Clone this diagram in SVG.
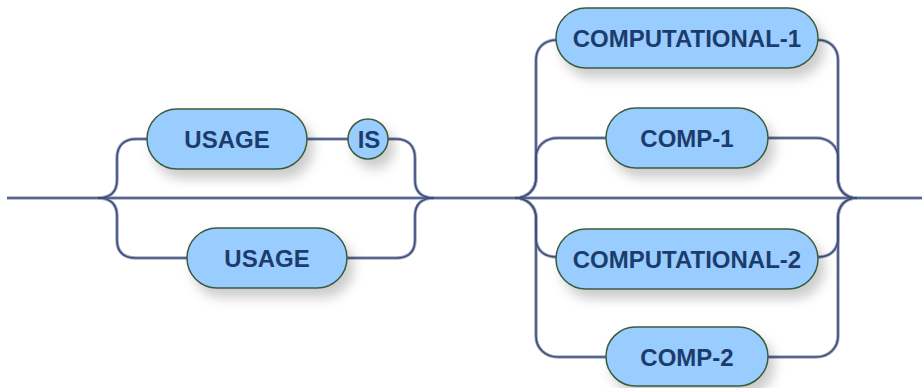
<svg xmlns="http://www.w3.org/2000/svg" width="922" height="388" viewBox="0 0 922 388">
<defs>
<filter id="sh" x="-20%" y="-30%" width="150%" height="200%">
<feDropShadow dx="6" dy="9" stdDeviation="6" flood-color="#000" flood-opacity="0.2"/>
</filter>
<style>
.node rect, .node circle { fill:#99ccff; stroke:#3b5b3b; stroke-width:1.5; filter:url(#sh); }
.node text { font-family:"Liberation Sans", Arial, sans-serif; font-weight:bold; font-size:24px; fill:#1c3c6c; text-anchor:middle; }
.under { fill:none; stroke:#a6aec4; stroke-width:3.5; }
.core { fill:none; stroke:#3d4d7a; stroke-width:1.6; }
</style>
<g id="paths">
<path d="M7,198 H922"/>
<path d="M98,198 C110,198 117,192 117,180 V158 C117,146 124,139 136,139 H147"/>
<path d="M307,139 H348"/>
<path d="M388,139 H396 C408,139 415,146 415,158 V180 C415,192 422,198 434,198"/>
<path d="M98,198 C110,198 117,204 117,216 V240 C117,252 124,258 136,258 H187"/>
<path d="M347,258 H396 C408,258 415,252 415,240 V216 C415,204 422,198 434,198"/>
<path d="M515,198 C527,198 536,190 536,178 V60 C536,48 544,40 557,40"/>
<path d="M818,40 C830,40 838,48 838,60 V178 C838,190 845,198 857,198"/>
<path d="M515,198 C527,198 536,190 536,178 V158 C536,146 545,138 558,138 H606"/>
<path d="M768,138 H816 C829,138 838,146 838,158 V178 C838,190 845,198 857,198"/>
<path d="M515,198 C527,198 536,206 536,218 V238 C536,250 544,257 557,257"/>
<path d="M818,257 C830,257 838,250 838,238 V218 C838,206 845,198 857,198"/>
<path d="M515,198 C527,198 536,206 536,218 V336 C536,348 545,357 558,357 H606"/>
<path d="M768,357 H816 C829,357 838,348 838,336 V218 C838,206 845,198 857,198"/>
</g>
</defs>
<g id="connectors">
<use href="#paths" class="under"/>
<use href="#paths" class="core"/>
</g>
<g id="n-usage1" class="node"><rect x="147" y="109" width="160" height="60" rx="30"/><text x="227" y="147.5">USAGE</text></g>
<g id="n-is" class="node"><circle cx="368" cy="139" r="20"/><text x="369" y="147.5">IS</text></g>
<g id="n-usage2" class="node"><rect x="187" y="228" width="160" height="60" rx="30"/><text x="267" y="266.5">USAGE</text></g>
<g id="n-comp1" class="node"><rect x="556" y="8" width="262" height="60" rx="30"/><text x="687" y="46.5">COMPUTATIONAL-1</text></g>
<g id="n-c1" class="node"><rect x="606" y="108" width="162" height="60" rx="30"/><text x="687" y="146.5">COMP-1</text></g>
<g id="n-comp2" class="node"><rect x="556" y="229" width="262" height="60" rx="30"/><text x="687" y="267.5">COMPUTATIONAL-2</text></g>
<g id="n-c2" class="node"><rect x="606" y="327" width="162" height="59" rx="29.5"/><text x="687" y="365.5">COMP-2</text></g>
</svg>
